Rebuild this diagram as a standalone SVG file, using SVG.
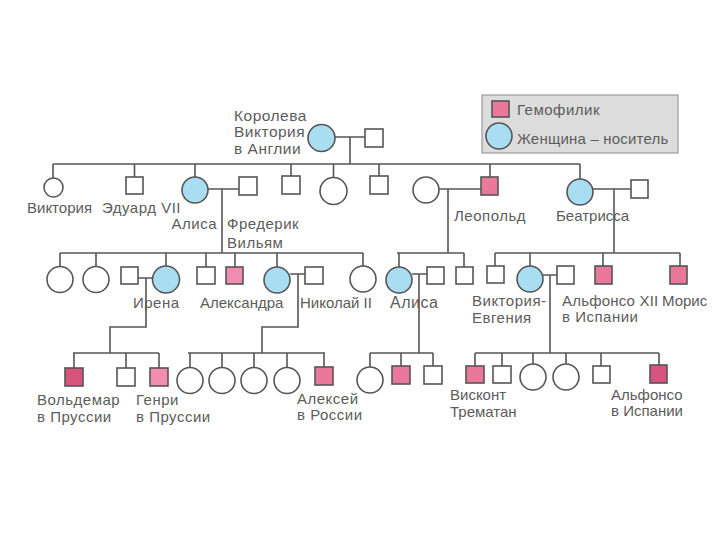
<svg xmlns="http://www.w3.org/2000/svg" width="720" height="540" viewBox="0 0 720 540">
<style>
.sq{fill:#fff;stroke:#555;stroke-width:1.6}
.ci{fill:#fff;stroke:#555;stroke-width:1.6}
.h{fill:#e9789c}
.hd{fill:#d8547f}
.hl{fill:#f08db0}
.c{fill:#a9def2}
.ln{fill:none;stroke:#555;stroke-width:1.6}
text{font-family:"Liberation Sans",Arial,sans-serif;font-size:15px;fill:#5c5c5c;letter-spacing:0.5px}
.big{font-size:16px}
.q{font-size:15.5px}
</style>
<rect width="720" height="540" fill="#fff"/>
<g id="legend">
<rect x="482" y="95" width="196" height="58" fill="#dcdcdc" stroke="#999" stroke-width="1.2"/>
<rect class="sq h" x="492" y="101" width="17" height="16"/>
<text x="517" y="115">Гемофилик</text>
<circle class="ci c" cx="499" cy="136" r="13"/>
<text x="517" y="144" style="letter-spacing:0.2px">Женщина – носитель</text>
</g>
<g id="connectors" class="ln">
<path d="M335,137H365M350,137V164M53,164H580M53,164V178M134.5,164V177M195,164V177M291,164V176M333.5,164V177M379,164V176M490,164V177M580,164V179"/>
<path d="M208,189H239M222,189V253M439,189H481M448,189V253M593,189H631M614,189V253"/>
<path d="M60,253H363M60,253V266M96,253V266M166,253V266M206,253V267M235,253V267M277,253V267M363,253V266"/>
<path d="M397,253H464M399,253V267M464,253V267"/>
<path d="M495,253H680M495,253V266M530,253V266M603,253V266M680,253V266"/>
<path d="M138,278H152.5M146,278V327H110V353M73,353H159M74,353V368M126,353V368M159,353V368"/>
<path d="M290,274H305M298,274V327H262V353M188,353H325M190,353V367M222,353V367M254,353V367M287,353V367M324,353V367"/>
<path d="M412,274H427M419,274V353M370,353H433M370,353V367M401,353V366M433,353V366"/>
<path d="M543,275H557M550,275V353M475,353H659M475,353V366M502,353V366M533,353V365M566,353V365M601,353V366M659,353V365"/>
</g>
<g id="queen"><circle class="ci c" cx="321.5" cy="138" r="13.5"/>
<text class="q" x="234" y="121">Королева</text><text class="q" x="234" y="137">Виктория</text><text class="q" x="234" y="154">в Англии</text></g>
<g id="queen-husband"><rect class="sq" x="365" y="129" width="18" height="18"/></g>
<g id="viktoria"><circle class="ci" cx="53.5" cy="187.5" r="9.5"/><text x="27" y="213" style="letter-spacing:0px">Виктория</text></g>
<g id="eduard"><rect class="sq" x="126" y="177" width="17" height="17"/><text x="102" y="213">Эдуард VII</text></g>
<g id="alisa1"><circle class="ci c" cx="195" cy="190" r="13"/><text x="217" y="229" text-anchor="end">Алиса</text></g>
<g id="frederik"><rect class="sq" x="239" y="177" width="18" height="18"/><text x="227" y="229">Фредерик</text><text x="227" y="248">Вильям</text></g>
<g id="son2"><rect class="sq" x="282" y="176" width="18" height="18"/></g>
<g id="dau2"><circle class="ci" cx="333.5" cy="191" r="13.5"/></g>
<g id="son3"><rect class="sq" x="370" y="176" width="18" height="18"/></g>
<g id="leopold-wife"><circle class="ci" cx="426" cy="190" r="13"/></g>
<g id="leopold"><rect class="sq h" x="481" y="177" width="17" height="18"/><text x="454" y="221">Леопольд</text></g>
<g id="beatrissa"><circle class="ci c" cx="580" cy="192" r="13"/><text x="556" y="221" style="letter-spacing:0px">Беатрисса</text></g>
<g id="beatrissa-husband"><rect class="sq" x="631" y="180" width="17" height="18"/></g>

<g id="r3c1"><circle class="ci" cx="60" cy="279.5" r="13"/></g>
<g id="r3c2"><circle class="ci" cx="96" cy="279.5" r="13"/></g>
<g id="irena-husband"><rect class="sq" x="121" y="267" width="17" height="17"/></g>
<g id="irena"><circle class="ci c" cx="166" cy="279.5" r="13.5"/><text x="133" y="308">Ирена</text></g>
<g id="r3s1"><rect class="sq" x="197" y="267" width="18" height="17"/></g>
<g id="r3s2"><rect class="sq hl" x="226" y="267" width="17" height="17"/></g>
<g id="aleksandra"><circle class="ci c" cx="277" cy="280" r="13"/><text x="200" y="308" style="letter-spacing:0px">Александра</text></g>
<g id="nikolai"><rect class="sq" x="305" y="267" width="18" height="17"/><text x="300" y="308" style="letter-spacing:0px">Николай II</text></g>
<g id="r3c3"><circle class="ci" cx="363" cy="279" r="13"/></g>
<g id="alisa2"><circle class="ci c" cx="399" cy="280" r="13"/><text x="390" y="308" class="big">Алиса</text></g>
<g id="alisa2-husband"><rect class="sq" x="427" y="267" width="17" height="17"/></g>
<g id="leopold-son"><rect class="sq" x="456" y="267" width="17" height="17"/></g>
<g id="r3s3"><rect class="sq" x="487" y="266" width="17" height="17"/></g>
<g id="viktoria-evgenia"><circle class="ci c" cx="530" cy="279" r="13"/><text x="472" y="306">Виктория-</text><text x="472" y="323">Евгения</text></g>
<g id="alfonso12"><rect class="sq" x="557" y="266" width="17" height="18"/><text x="562" y="306" style="letter-spacing:0.2px">Альфонсо XII</text><text x="562" y="322">в Испании</text></g>
<g id="r3s4"><rect class="sq h" x="595" y="266" width="17" height="18"/></g>
<g id="moris"><rect class="sq h" x="670" y="266" width="17" height="18"/><text x="662" y="306" style="letter-spacing:0px">Морис</text></g>

<g id="voldemar"><rect class="sq hd" x="65" y="368" width="18" height="18"/><text x="37" y="405">Вольдемар</text><text x="37" y="422">в Пруссии</text></g>
<g id="r4s1"><rect class="sq" x="117" y="368" width="18" height="18"/></g>
<g id="genri"><rect class="sq hl" x="150" y="368" width="18" height="18"/><text x="136" y="405">Генри</text><text x="136" y="422">в Пруссии</text></g>
<g id="r4c1"><circle class="ci" cx="190" cy="380.5" r="13"/></g>
<g id="r4c2"><circle class="ci" cx="222" cy="380.5" r="13"/></g>
<g id="r4c3"><circle class="ci" cx="254" cy="380.5" r="13"/></g>
<g id="r4c4"><circle class="ci" cx="287" cy="380.5" r="13"/></g>
<g id="aleksei"><rect class="sq h" x="315" y="367" width="18" height="18"/><text x="297" y="404">Алексей</text><text x="297" y="420">в России</text></g>
<g id="r4c5"><circle class="ci" cx="370" cy="380" r="13"/></g>
<g id="r4s2"><rect class="sq h" x="392" y="366" width="18" height="18"/></g>
<g id="r4s3"><rect class="sq" x="424" y="366" width="18" height="18"/></g>
<g id="viskont"><rect class="sq h" x="466" y="366" width="18" height="17"/><text x="450" y="400" style="letter-spacing:0px">Висконт</text><text x="450" y="417" style="letter-spacing:0px">Трематан</text></g>
<g id="r4s4"><rect class="sq" x="493" y="366" width="18" height="17"/></g>
<g id="r4c6"><circle class="ci" cx="533" cy="377" r="13"/></g>
<g id="r4c7"><circle class="ci" cx="566" cy="377" r="13"/></g>
<g id="r4s5"><rect class="sq" x="593" y="366" width="17" height="17"/></g>
<g id="alfonso"><rect class="sq hd" x="650" y="365" width="17" height="18"/><text x="611" y="400" style="letter-spacing:0px">Альфонсо</text><text x="611" y="416" style="letter-spacing:0px">в Испании</text></g>
</svg>
